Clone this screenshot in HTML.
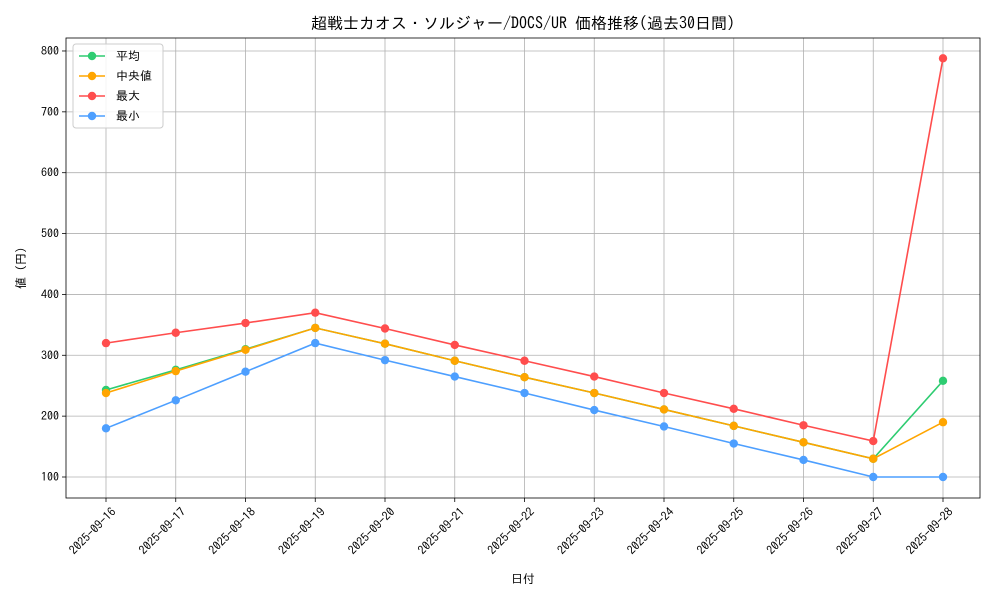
<!DOCTYPE html>
<html><head><meta charset="utf-8"><style>
body{margin:0;background:#fff;}
svg text{font-family:"IPAGothic","Noto Sans CJK JP",sans-serif;fill:#000;}
</style></head><body>
<svg id="chart" width="1000" height="600" xmlns="http://www.w3.org/2000/svg">
<rect width="1000" height="600" fill="#fff"/>
<text x="523" y="29" font-size="16" text-anchor="middle">超戦士カオス・ソルジャー/DOCS/UR 価格推移(過去30日間)</text>
<g id="grid"></g><g id="axes"></g><g id="series"></g>
<text x="523" y="583" font-size="12" text-anchor="middle">日付</text>
<text transform="translate(25,268) rotate(-90)" font-size="12" text-anchor="middle">値 (円)</text>
<g id="legend"></g>
</svg>
<script>
const dates=["2025-09-16","2025-09-17","2025-09-18","2025-09-19","2025-09-20","2025-09-21","2025-09-22","2025-09-23","2025-09-24","2025-09-25","2025-09-26","2025-09-27","2025-09-28"];
const meanVals=[243,276,310,345,319,291,264,238,211,184,157,130,258];
const medianVals=[238,274,309,345,319,291,264,238,211,184,157,130,190];
const maxVals=[320,337,353,370,344,317,291,265,238,212,185,159,788];
const minVals=[180,226,273,320,292,265,238,210,183,155,128,100,100];
const yTicks=[100,200,300,400,500,600,700,800];
const seriesNames=["平均","中央値","最大","最小"];
const seriesColors=["#2ecc71","#ffa500","#ff4d4d","#4d9fff"];
const NS="http://www.w3.org/2000/svg";
const L=66,R=980,T=38,B=498;
const x=i=>106+i*(943-106)/(dates.length-1);
const y=v=>477-(v-100)*0.6086;
function mk(tag,attrs,parent){const e=document.createElementNS(NS,tag);for(const k in attrs)e.setAttribute(k,attrs[k]);parent.appendChild(e);return e;}
const grid=document.getElementById('grid'),axes=document.getElementById('axes'),ser=document.getElementById('series'),leg=document.getElementById('legend');
dates.forEach((d,i)=>{
 const g=mk('line',{x1:x(i),x2:x(i),y1:T,y2:B,stroke:'#b0b0b0','stroke-width':0.8},grid);
 
 
 mk('line',{x1:x(i),x2:x(i),y1:B,y2:B+4,stroke:'#000','stroke-width':0.8},axes);
 const t=mk('text',{transform:`translate(${x(i)+5},${B+9}) rotate(-45)`,'font-size':12,'text-anchor':'end','dominant-baseline':'hanging'},axes);
 t.textContent=d;
 
 
});
yTicks.forEach(v=>{
 const g=mk('line',{x1:L,x2:R,y1:y(v),y2:y(v),stroke:'#b0b0b0','stroke-width':0.8},grid);
 
 
 mk('line',{x1:L-4,x2:L,y1:y(v),y2:y(v),stroke:'#000','stroke-width':0.8},axes);
 const t=mk('text',{x:L-7,y:y(v)+4,'font-size':12,'text-anchor':'end'},axes);
 t.textContent=v;
 
 
});
const fr=mk('rect',{x:L,y:T,width:R-L,height:B-T,fill:'none',stroke:'#000','stroke-width':0.8},axes);


[meanVals,medianVals,maxVals,minVals].forEach((vals,s)=>{
 const g=mk('g',{},ser);
 
 
 mk('polyline',{points:vals.map((v,i)=>x(i)+','+y(v)).join(' '),fill:'none',stroke:seriesColors[s],'stroke-width':1.6},g);
 vals.forEach((v,i)=>{
  const c=mk('circle',{cx:x(i),cy:y(v),r:4.2,fill:seriesColors[s]},g);
  
  
 });
});
const lb=mk('rect',{x:73,y:44,width:90,height:84,rx:3,fill:'#fff','fill-opacity':0.85,stroke:'#ccc'},leg);


seriesNames.forEach((n,i)=>{
 const yy=56+i*20;
 const g=mk('g',{},leg);
 
 
 mk('line',{x1:79,x2:105,y1:yy,y2:yy,stroke:seriesColors[i],'stroke-width':1.6},g);
 mk('circle',{cx:92,cy:yy,r:4.2,fill:seriesColors[i]},g);
 const t=mk('text',{x:116,y:yy+4,'font-size':12},g);
 t.textContent=n;
});
</script>
</body></html>
